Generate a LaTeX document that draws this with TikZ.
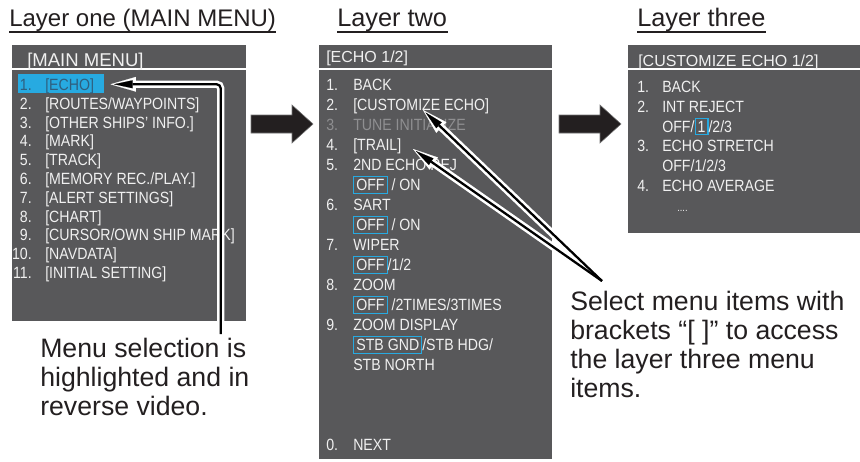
\documentclass[tikz,border=0pt]{standalone}
\usepackage{fontspec}
\setmainfont{Liberation Sans}
\newfontfamily\menuf[FakeStretch=0.87]{Liberation Sans}
\usetikzlibrary{arrows.meta,calc}
\definecolor{panelgray}{HTML}{58585A}
\definecolor{menutext}{HTML}{F0F0F0}
\definecolor{dimtext}{HTML}{8F8F91}
\definecolor{selcyan}{HTML}{27AAE1}
\definecolor{seltext}{HTML}{2F5F7F}
\definecolor{blockblack}{HTML}{231F20}
\definecolor{inkblack}{HTML}{231F20}
\newcommand\cybox[1]{{\setlength\fboxsep{1.5pt}\setlength\fboxrule{0.8pt}\color{selcyan}\fbox{\color{menutext}#1}}}
\tikzset{
  ttl/.style={font=\fontsize{19}{22}\selectfont, anchor=base west, inner sep=0, text=inkblack},
  capt/.style={font=\fontsize{20}{21.75}\selectfont, anchor=north west, inner sep=0, align=left, text=inkblack},
  hdr/.style={font=\fontsize{12}{14}\selectfont, anchor=base west, inner sep=0, text=menutext},
  itm/.style={font=\menuf\fontsize{12.2}{14}\selectfont, anchor=base west, inner sep=0, text=menutext},
  numr/.style={itm, anchor=base east},
  panelfill/.style={fill=panelgray},
  sepline/.style={draw=white, line width=0.8pt},
  blockarrow/.style={fill=blockblack, draw=black!55, line width=0.4pt},
  calloutwhite/.style={draw=white, line width=5.5pt, -{Triangle[length=19pt,width=11pt,line width=0.1pt]}},
  calloutblack/.style={draw=black, line width=1.7pt, shorten >=2.6pt, -{Triangle[length=14pt,width=6pt,line width=0.1pt]}},
}
\begin{document}
\begin{tikzpicture}[x=0.75pt,y=-0.75pt]
\useasboundingbox (0,0) rectangle (860,461);

% titles
\node[ttl, font=\fontsize{18}{22}\selectfont] (t1) at (9,26.7) {Layer one (MAIN MENU)};
\node[ttl] (t2) at (337,26.7) {Layer two};
\node[ttl] (t3) at (637,26.7) {Layer three};
\fill[inkblack] (9,31.2) rectangle (276,32.7);
\fill[inkblack] (337,31.2) rectangle (448,32.7);
\fill[inkblack] (637,31.2) rectangle (766,32.7);

% panels
\fill[panelfill] (12,45) rectangle (246,321);
\fill[panelfill] (319,45) rectangle (552,459);
\fill[panelfill] (628,45) rectangle (860,233);
\draw[sepline] (12,69) -- (246,69);
\draw[sepline] (319,69) -- (552,69);
\draw[sepline] (628,69) -- (860,69);

% ---------- panel 1
\node[hdr, font=\fontsize{13.9}{16}\selectfont] (h1) at (27,66.5) {[MAIN MENU]};
\node[fill=selcyan, minimum width=64.5pt, minimum height=14.25pt, inner sep=0, anchor=north west] (hl1) at (18,74) {};
\node[numr, text=seltext] (n1) at (32,90.5) {1.};
\node[itm, text=seltext] (e1) at (45,90.5) {[ECHO]};
\foreach \k/\txt in {2/{[ROUTES/WAYPOINTS]},3/{[OTHER SHIPS’ INFO.]},4/{[MARK]},5/{[TRACK]},6/{[MEMORY REC./PLAY.]},7/{[ALERT SETTINGS]},8/{[CHART]},9/{[CURSOR/OWN SHIP MARK]},10/{[NAVDATA]},11/{[INITIAL SETTING]}}{
  \node[numr] (n1\k) at (32,{90.5+(\k-1)*18.8}) {\k.};
  \node[itm] (e1\k) at (45,{90.5+(\k-1)*18.8}) {\txt};
}

% ---------- panel 2
\node[hdr] (h2) at (326,62.5) {[ECHO 1/2]};
\node[itm] (m20) at (326,90.5) {1.};   \node[itm] (e20) at (353,90.5) {BACK};
\node[itm] (m21) at (326,110.5) {2.};  \node[itm] (e2) at (353,110.5) {[CUSTOMIZE ECHO]};
\node[itm, text=dimtext] (m22) at (326,130.5) {3.}; \node[itm, text=dimtext] (e22) at (353,130.5) {TUNE INITIALIZE};
\node[itm] (m23) at (326,150.5) {4.};  \node[itm] (e4) at (353,150.5) {[TRAIL]};
\node[itm] (m24) at (326,170.5) {5.};  \node[itm] (e24) at (353,170.5) {2ND ECHO REJ};
\node[itm] (e25) at (353,190.5) {\cybox{OFF} / ON};
\node[itm] (m26) at (326,210.5) {6.};  \node[itm] (e26) at (353,210.5) {SART};
\node[itm] (e27) at (353,230.5) {\cybox{OFF} / ON};
\node[itm] (m28) at (326,250.5) {7.};  \node[itm] (e28) at (353,250.5) {WIPER};
\node[itm] (e29) at (353,270.5) {\cybox{OFF}/1/2};
\node[itm] (m210) at (326,290.5) {8.}; \node[itm] (e210) at (353,290.5) {ZOOM};
\node[itm] (e211) at (353,310.5) {\cybox{OFF} /2TIMES/3TIMES};
\node[itm] (m212) at (326,330.5) {9.}; \node[itm] (e212) at (353,330.5) {ZOOM DISPLAY};
\node[itm] (e213) at (353,350.5) {\cybox{STB GND}/STB HDG/};
\node[itm] (e214) at (353,370.5) {STB NORTH};
\node[itm] (m218) at (326,450.5) {0.}; \node[itm] (e218) at (353,450.5) {NEXT};

% ---------- panel 3
\node[hdr] (h3) at (638,66) {[CUSTOMIZE ECHO 1/2]};
\node[itm] (m30) at (637,92.5) {1.};  \node[itm] (e30) at (662,92.5) {BACK};
\node[itm] (m31) at (637,112.3) {2.}; \node[itm] (e31) at (662,112.3) {INT REJECT};
\node[itm] (e32) at (662,132.1) {OFF/\cybox{1}/2/3};
\node[itm] (m33) at (637,151.9) {3.}; \node[itm] (e33) at (662,151.9) {ECHO STRETCH};
\node[itm] (e34) at (662,171.7) {OFF/1/2/3};
\node[itm] (m35) at (637,191.5) {4.}; \node[itm] (e35) at (662,191.5) {ECHO AVERAGE};
\node[itm, font=\menuf\fontsize{8}{10}\selectfont] (e36) at (677,211.3) {....};

% block arrows between layers
\draw[blockarrow] (251,115) -- (292,115) -- (292,105) -- (313,124) -- (292,143) -- (292,133) -- (251,133) -- cycle;
\draw[blockarrow] (559,115) -- (600,115) -- (600,105) -- (621,124) -- (600,143) -- (600,133) -- (559,133) -- cycle;

% captions
\node[capt] (cap1) at (40,338) {Menu selection is\\highlighted and in\\reverse video.};
\node[capt] (cap2) at (570,291) {Select menu items with\\brackets “[ ]” to access\\the layer three menu\\items.};

% callouts
\coordinate (c1) at (220.7,334);
\coordinate (c2) at (602,281);
\coordinate (tp1) at ($(hl1.east)+(6,0.5)$);
\coordinate (tpA) at ($(e2.base west)+(70,-0.5)$);
\coordinate (tpB) at ($(e4.base west)+(60,-1.5)$);
\draw[calloutwhite, rounded corners=3pt] (c1) |- (tp1);
\draw[calloutwhite] (c2) -- (tpA);
\draw[calloutwhite] (c2) -- (tpB);
\draw[calloutblack, rounded corners=3pt] (c1) |- (tp1);
\draw[calloutblack] (c2) -- (tpA);
\draw[calloutblack] (c2) -- (tpB);
\end{tikzpicture}
\end{document}
